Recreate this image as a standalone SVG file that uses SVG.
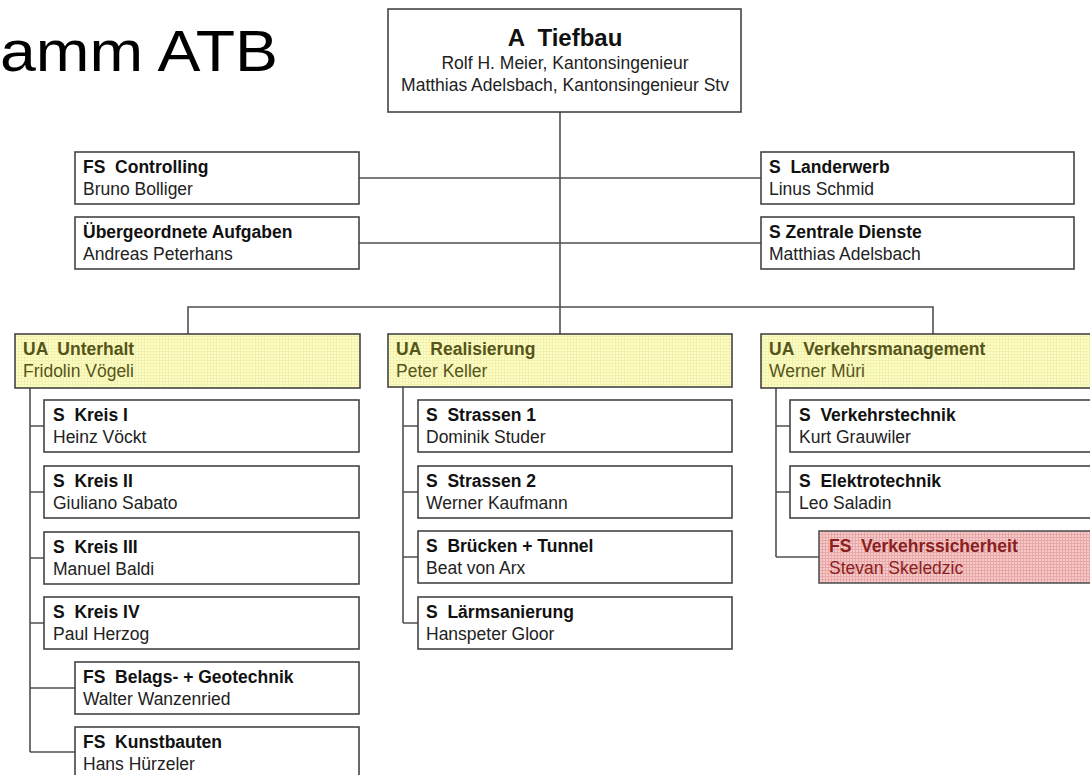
<svg xmlns="http://www.w3.org/2000/svg" width="1090" height="775" viewBox="0 0 1090 775">
<defs>
<pattern id="py" width="3" height="3" patternUnits="userSpaceOnUse">
<rect width="3" height="3" fill="#fdfdc4"/>
<rect width="3" height="1" fill="#f1f1b0"/>
<rect width="1" height="3" fill="#f1f1b0"/>
</pattern>
<pattern id="pp" width="3" height="3" patternUnits="userSpaceOnUse">
<rect width="3" height="3" fill="#f6caca"/>
<rect width="3" height="1" fill="#e8a8a8"/>
<rect width="1" height="3" fill="#e8a8a8"/>
</pattern>
</defs>
<style>
text{font-family:"Liberation Sans",Arial,sans-serif;font-size:17.5px;fill:#222;white-space:pre}
.b{font-weight:bold;fill:#111}
.box{fill:#fff;stroke:#444;stroke-width:1.6}
.ua{fill:url(#py);stroke:#444;stroke-width:1.6}
.uat text{fill:#55551a}
.fs{fill:url(#pp);stroke:#555;stroke-width:1.6}
.fsr text{fill:#8a1f1f}
.c{fill:none;stroke:#505050;stroke-width:1.6}
</style>
<rect width="1090" height="775" fill="#fff"/>
<text x="0" y="71" textLength="278" lengthAdjust="spacingAndGlyphs" style="font-size:57px;fill:#000">amm ATB</text>

<g id="connectors">
<path class="c" d="M560 112V307M359 178H761M359 243H761M188 334V307H933V334M560 307V334"/>
<path class="c" d="M30 388V752M30 426H44M30 492H44M30 558H44M30 623H44M30 688H75M30 752H75"/>
<path class="c" d="M403 387V623M403 426H418M403 492H418M403 557H418M403 623H418"/>
<path class="c" d="M776 388V557M776 426H790M776 492H790M776 557H819"/>
</g>

<g id="tiefbau"><rect class="box" x="388" y="9" width="353" height="103"/>
<text class="b" x="565" y="46" text-anchor="middle" style="font-size:24px">A  Tiefbau</text>
<text x="565" y="69" text-anchor="middle">Rolf H. Meier, Kantonsingenieur</text>
<text x="565" y="91" text-anchor="middle">Matthias Adelsbach, Kantonsingenieur Stv</text></g>

<g id="controlling"><rect class="box" x="75" y="152" width="284" height="52"/><text class="b" x="83" y="173">FS  Controlling</text><text x="83" y="195">Bruno Bolliger</text></g>
<g id="uebergeordnete"><rect class="box" x="75" y="217" width="284" height="52"/><text class="b" x="83" y="238">Übergeordnete Aufgaben</text><text x="83" y="260">Andreas Peterhans</text></g>
<g id="landerwerb"><rect class="box" x="761" y="152" width="313" height="52"/><text class="b" x="769" y="173">S  Landerwerb</text><text x="769" y="195">Linus Schmid</text></g>
<g id="zentrale"><rect class="box" x="761" y="217" width="313" height="52"/><text class="b" x="769" y="238">S Zentrale Dienste</text><text x="769" y="260">Matthias Adelsbach</text></g>

<g id="unterhalt" class="uat"><rect class="ua" x="15" y="334" width="345" height="54"/><text class="b" x="23" y="355">UA  Unterhalt</text><text x="23" y="377">Fridolin Vögeli</text></g>
<g id="kreis1"><rect class="box" x="44" y="400" width="315" height="52"/><text class="b" x="53" y="421">S  Kreis I</text><text x="53" y="443">Heinz Vöckt</text></g>
<g id="kreis2"><rect class="box" x="44" y="466" width="315" height="52"/><text class="b" x="53" y="487">S  Kreis II</text><text x="53" y="509">Giuliano Sabato</text></g>
<g id="kreis3"><rect class="box" x="44" y="532" width="315" height="52"/><text class="b" x="53" y="553">S  Kreis III</text><text x="53" y="575">Manuel Baldi</text></g>
<g id="kreis4"><rect class="box" x="44" y="597" width="315" height="52"/><text class="b" x="53" y="618">S  Kreis IV</text><text x="53" y="640">Paul Herzog</text></g>
<g id="belags"><rect class="box" x="75" y="662" width="284" height="52"/><text class="b" x="83" y="683">FS  Belags- + Geotechnik</text><text x="83" y="705">Walter Wanzenried</text></g>
<g id="kunstbauten"><rect class="box" x="75" y="727" width="284" height="52"/><text class="b" x="83" y="748">FS  Kunstbauten</text><text x="83" y="770">Hans Hürzeler</text></g>

<g id="realisierung" class="uat"><rect class="ua" x="388" y="334" width="344" height="53"/><text class="b" x="396" y="355">UA  Realisierung</text><text x="396" y="377">Peter Keller</text></g>
<g id="strassen1"><rect class="box" x="418" y="400" width="314" height="52"/><text class="b" x="426" y="421">S  Strassen 1</text><text x="426" y="443">Dominik Studer</text></g>
<g id="strassen2"><rect class="box" x="418" y="466" width="314" height="52"/><text class="b" x="426" y="487">S  Strassen 2</text><text x="426" y="509">Werner Kaufmann</text></g>
<g id="bruecken"><rect class="box" x="418" y="531" width="314" height="52"/><text class="b" x="426" y="552">S  Brücken + Tunnel</text><text x="426" y="574">Beat von Arx</text></g>
<g id="laerm"><rect class="box" x="418" y="597" width="314" height="52"/><text class="b" x="426" y="618">S  Lärmsanierung</text><text x="426" y="640">Hanspeter Gloor</text></g>

<g id="verkehrsmanagement" class="uat"><rect class="ua" x="761" y="334" width="335" height="54"/><text class="b" x="769" y="355">UA  Verkehrsmanagement</text><text x="769" y="377">Werner Müri</text></g>
<g id="verkehrstechnik"><rect class="box" x="790" y="400" width="306" height="52"/><text class="b" x="799" y="421">S  Verkehrstechnik</text><text x="799" y="443">Kurt Grauwiler</text></g>
<g id="elektrotechnik"><rect class="box" x="790" y="466" width="306" height="52"/><text class="b" x="799" y="487">S  Elektrotechnik</text><text x="799" y="509">Leo Saladin</text></g>
<g id="verkehrssicherheit" class="fsr"><rect class="fs" x="819" y="531" width="277" height="52"/><text class="b" x="829" y="552">FS  Verkehrssicherheit</text><text x="829" y="574">Stevan Skeledzic</text></g>
</svg>
